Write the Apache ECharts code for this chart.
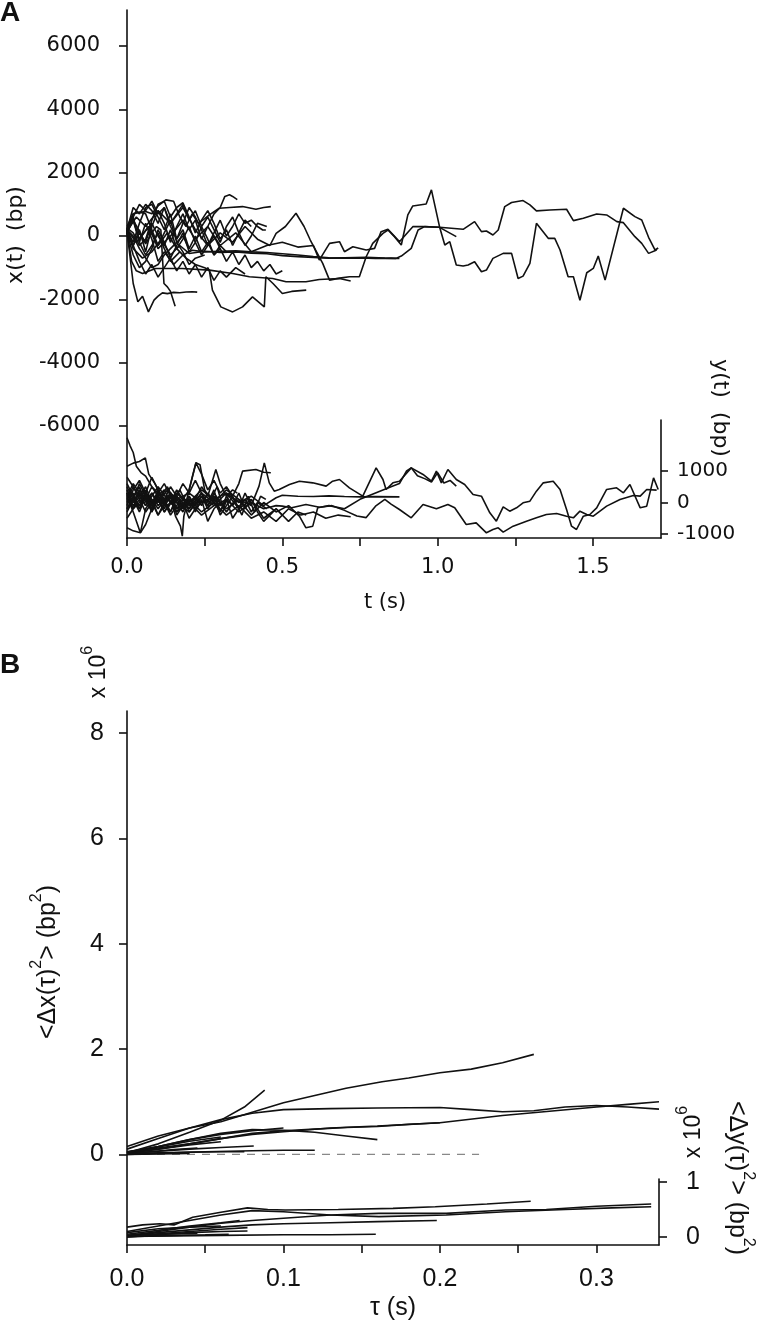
<!DOCTYPE html>
<html><head><meta charset="utf-8">
<script src="https://cdn.jsdelivr.net/npm/echarts@6/dist/echarts.min.js"></script>
<style>html,body{margin:0;padding:0;background:#fff}#c{width:760px;height:1327px}</style>
</head><body><div id="c"></div>
<script>
// ---------- Panel A: x(t) traces [t (s), x (bp)] ----------
const xTraceP = [[0,150],[0.03,600],[0.06,300],[0.1,800],[0.14,400],[0.18,900],[0.22,200],[0.26,-300],[0.3,100],[0.34,-200],[0.38,300],[0.42,-100],[0.46,-300],[0.48,84],[0.51,300],[0.544,718],[0.57,300],[0.59,-127],[0.63,-866],[0.652,-1393],[0.684,-1330],[0.716,-1288],[0.748,-1288],[0.77,-655],[0.791,-232],[0.824,84],[0.84,190],[0.861,-21],[0.883,-285],[0.904,665],[0.92,950],[0.963,1013],[0.98,1457],[1.006,295],[1.023,-285],[1.039,-179],[1.06,-918],[1.082,-950],[1.098,-918],[1.119,-813],[1.141,-1130],[1.157,-1077],[1.178,-707],[1.211,-549],[1.238,-549],[1.259,-1340],[1.275,-1267],[1.297,-866],[1.318,401],[1.356,-74],[1.377,-74],[1.394,-443],[1.42,-1288],[1.437,-1288],[1.458,-2027],[1.48,-1161],[1.501,-1024],[1.517,-634],[1.539,-1393],[1.598,876],[1.635,612],[1.657,507],[1.679,-42],[1.70,-443],[1.71,-380]];
const xTraceQ = [[0,200],[0.03,-200],[0.07,300],[0.1,-400],[0.14,0],[0.18,500],[0.22,-100],[0.26,300],[0.3,-300],[0.35,100],[0.4,-500],[0.45,-300],[0.5,-200],[0.55,-350],[0.6,-300],[0.619,-760],[0.652,-232],[0.684,-179],[0.70,-496],[0.727,-338],[0.77,-443],[0.797,-390],[0.818,137],[0.84,211],[0.877,-179],[0.92,295],[0.953,295],[1.006,274],[1.082,211],[1.119,454],[1.141,137],[1.157,158],[1.178,32],[1.195,190],[1.216,929],[1.238,1056],[1.275,1119],[1.297,982],[1.318,792],[1.361,823],[1.415,845],[1.437,485],[1.469,560],[1.512,697],[1.544,665],[1.577,454],[1.598,422],[1.635,-21],[1.657,-232],[1.679,-549],[1.705,-443]];
const xTraceR = [[0,200],[0.02,-400],[0.05,-700],[0.08,-500],[0.11,-100],[0.14,-600],[0.17,-300],[0.2,-550],[0.25,-480],[0.3,-520],[0.35,-500],[0.4,-540],[0.45,-560],[0.5,-620],[0.55,-650],[0.6,-680],[0.65,-700],[0.7,-690],[0.77,-676],[0.83,-700],[0.866,-707],[0.883,-634],[0.915,-390],[0.937,190],[0.958,295],[1.006,274],[1.06,-21]];
const xTraceV = [[0,150],[0.02,600],[0.04,-200],[0.06,400],[0.08,-100],[0.1,-800],[0.12,-500],[0.15,-900],[0.18,-600],[0.21,-450],[0.25,-500],[0.3,-480],[0.35,-470],[0.4,-500],[0.45,-520],[0.5,-560],[0.55,-600],[0.6,-650],[0.65,-690],[0.7,-700],[0.75,-690],[0.8,-710],[0.85,-700],[0.877,-710]];
const xTraceS = [[0,150],[0.015,-800],[0.03,-1100],[0.05,-1182],[0.092,-1024],[0.178,-1024],[0.265,-1077],[0.34,-1182],[0.394,-1288],[0.469,-1340],[0.512,-1446],[0.576,-1446],[0.619,-1372],[0.684,-1340],[0.72,-1420]];
const xTraceW = [[0,100],[0.02,500],[0.04,-100],[0.07,300],[0.1,-300],[0.13,100],[0.16,-400],[0.19,-700],[0.22,-900],[0.25,-1000],[0.265,-1077],[0.275,-1710],[0.302,-2238],[0.34,-2397],[0.372,-2238],[0.404,-1921],[0.442,-2238],[0.447,-1288],[0.47,-1500],[0.5,-1815],[0.53,-1750],[0.577,-1710]];
const xTraceE1 = [[0,150],[0.02,-1500],[0.035,-2080],[0.05,-1900],[0.069,-2397],[0.087,-2027],[0.1,-1900],[0.114,-1795],[0.13,-1820],[0.15,-1780],[0.17,-1790],[0.19,-1770],[0.21,-1760],[0.226,-1773]];
const xTraceE2 = [[0,250],[0.02,500],[0.04,150],[0.06,-250],[0.08,100],[0.095,300],[0.109,190],[0.119,-1500],[0.13,-1605],[0.14,-1750],[0.155,-2217]];
const xTraceH = [[0,200],[0.02,700],[0.04,750],[0.06,770],[0.08,700],[0.1,950],[0.125,1140],[0.15,1100],[0.17,600],[0.19,300],[0.21,700],[0.23,400],[0.25,550],[0.265,665],[0.297,876],[0.33,900],[0.372,929],[0.415,845],[0.44,900],[0.463,929]];
const xTraceT = [[0,100],[0.02,-300],[0.04,200],[0.06,-500],[0.08,300],[0.1,800],[0.12,400],[0.14,-200],[0.16,300],[0.18,700],[0.2,200],[0.22,500],[0.24,-100],[0.26,300],[0.28,700],[0.3,900],[0.315,1250],[0.33,1300],[0.34,1250],[0.355,1150]];
const xTraceA1 = [[0,200],[0.02,-200],[0.04,400],[0.06,900],[0.08,1000],[0.1,600],[0.12,200],[0.14,700],[0.16,-100],[0.18,400],[0.2,900],[0.22,600],[0.24,200],[0.26,-300],[0.28,100],[0.3,500],[0.32,0],[0.34,300],[0.36,700],[0.38,400],[0.4,500],[0.42,300],[0.437,190],[0.447,190]];
const xTraceA2 = [[0,300],[0.02,700],[0.04,750],[0.06,700],[0.08,200],[0.1,-300],[0.12,100],[0.14,500],[0.16,-200],[0.18,0],[0.2,-400]];
const xTraceA3 = [[0,100],[0.02,-600],[0.04,-1000],[0.06,-800],[0.08,-400],[0.1,200],[0.12,-200],[0.14,-700],[0.16,-300],[0.18,100],[0.2,-500],[0.22,-200],[0.24,300],[0.26,-100],[0.28,-600],[0.3,-400]];
const xTraceA4 = [[0,250],[0.02,100],[0.04,-300],[0.06,-100],[0.08,500],[0.1,1000],[0.12,1100],[0.14,600],[0.16,900],[0.18,1050],[0.2,600],[0.22,100],[0.24,500],[0.26,800],[0.28,400],[0.3,-100],[0.32,200],[0.34,-300],[0.36,100],[0.38,500],[0.4,300]];
const xTraceA5 = [[0,200],[0.02,0],[0.04,-400],[0.06,-700],[0.08,-1000],[0.1,-900],[0.12,-600],[0.14,-400],[0.16,-200],[0.18,-500],[0.2,-900],[0.22,-700],[0.25,-600]];
const xTraceA6 = [[0,150],[0.02,500],[0.04,-200],[0.06,-600],[0.08,-300],[0.1,100],[0.12,-400],[0.14,-800],[0.17,-500]];
const xTraceA7 = [[0,200],[0.02,900],[0.04,700],[0.06,1000],[0.08,800],[0.1,400],[0.12,900],[0.14,300],[0.16,-100],[0.18,200],[0.2,-400],[0.22,0],[0.24,-500],[0.26,-200],[0.28,-600],[0.3,-300],[0.32,-500]];
const xTraceA8 = [[0,100],[0.02,-300],[0.04,100],[0.06,-200],[0.08,400],[0.1,0],[0.12,-300],[0.14,200],[0.16,-400],[0.18,-100],[0.2,300],[0.22,-200],[0.24,-600],[0.26,-300],[0.28,0],[0.3,-400],[0.32,-800],[0.34,-500],[0.36,-900],[0.38,-600],[0.4,-1000],[0.42,-800],[0.44,-1100],[0.46,-900],[0.48,-1200],[0.5,-1100]];
const xTraceA9 = [[0,200],[0.02,600],[0.04,1000],[0.06,800],[0.08,1100],[0.1,700],[0.12,900],[0.14,400],[0.16,700],[0.18,1000],[0.2,500],[0.22,800],[0.24,300],[0.26,600],[0.28,200],[0.3,-200],[0.32,300],[0.34,600],[0.36,100],[0.38,-300],[0.4,0],[0.42,400],[0.45,300]];
const xTraceA10 = [[0,150],[0.02,-300],[0.04,-800],[0.06,-1200],[0.08,-900],[0.1,-1300],[0.12,-1000],[0.14,-700],[0.16,-1100],[0.18,-800],[0.2,-1200],[0.22,-900],[0.24,-1300],[0.26,-1000],[0.28,-1400],[0.3,-1100],[0.32,-1300],[0.35,-1000],[0.38,-1200]];

// ---------- Panel A: y(t) traces [t (s), y (bp)] ----------
const yTraceP = [[0,300],[0.02,-100],[0.04,200],[0.06,500],[0.08,0],[0.1,300],[0.13,-100],[0.16,200],[0.2,-200],[0.24,300],[0.28,0],[0.32,400],[0.36,100],[0.4,-100],[0.425,519],[0.442,1259],[0.458,624],[0.474,360],[0.49,413],[0.523,571],[0.555,677],[0.598,624],[0.641,519],[0.662,677],[0.684,730],[0.716,466],[0.759,201],[0.802,1101],[0.824,730],[0.834,413],[0.856,624],[0.877,677],[0.915,1100],[0.953,889],[0.98,677],[0.996,995],[1.012,624],[1.033,1048],[1.06,730],[1.087,571],[1.114,254],[1.141,201],[1.168,-328],[1.189,-593],[1.211,-138],[1.232,-275],[1.254,-169],[1.275,-11],[1.297,42],[1.318,360],[1.34,624],[1.372,677],[1.394,413],[1.415,-222],[1.431,-751],[1.447,-857],[1.469,-434],[1.49,-381],[1.512,-169],[1.544,413],[1.576,466],[1.598,307],[1.619,571],[1.652,-169],[1.673,-116],[1.695,783],[1.71,413]];
const yTraceQ = [[0,-200],[0.02,200],[0.04,-100],[0.06,300],[0.08,100],[0.1,-200],[0.13,200],[0.16,0],[0.2,-300],[0.24,200],[0.28,-100],[0.32,100],[0.36,-300],[0.4,0],[0.44,-200],[0.48,-100],[0.5,-116],[0.53,-169],[0.576,-64],[0.62,-150],[0.66,-100],[0.7,-250],[0.74,-430],[0.77,-480],[0.8,-116],[0.83,100],[0.85,-50],[0.877,-222],[0.915,-487],[0.953,-64],[0.996,-201],[1.033,-64],[1.055,-169],[1.092,-699],[1.124,-646],[1.157,-963],[1.178,-857],[1.195,-804],[1.211,-942],[1.243,-751],[1.286,-593],[1.318,-487],[1.35,-381],[1.383,-349],[1.415,-434],[1.437,-487],[1.458,-275],[1.48,-381],[1.501,-434],[1.544,-116],[1.587,95],[1.63,222],[1.652,201],[1.673,413],[1.705,392]];
const yTraceR = [[0,100],[0.02,500],[0.04,200],[0.06,-100],[0.08,300],[0.1,0],[0.13,400],[0.16,100],[0.2,300],[0.24,0],[0.28,200],[0.32,-200],[0.36,100],[0.4,-400],[0.44,0],[0.48,-300],[0.52,-100],[0.555,-434],[0.576,-804],[0.598,-751],[0.614,-169],[0.65,-100],[0.7,-200],[0.75,100],[0.8,300],[0.85,500],[0.877,600],[0.9,1000],[0.915,1100],[0.935,850],[0.96,750],[0.98,650],[1.0,950],[1.02,620],[1.04,700],[1.06,518]];
const yTraceV = [[0,-300],[0.02,100],[0.04,-200],[0.06,300],[0.08,0],[0.1,200],[0.13,-200],[0.16,300],[0.2,0],[0.24,400],[0.28,100],[0.32,300],[0.36,0],[0.4,200],[0.44,-100],[0.48,150],[0.5,230],[0.55,200],[0.6,190],[0.65,210],[0.7,190],[0.75,180],[0.8,185],[0.877,180]];
const yTraceS = [[0,400],[0.02,0],[0.04,300],[0.06,-100],[0.08,200],[0.1,500],[0.13,100],[0.16,-200],[0.2,100],[0.24,-300],[0.28,0],[0.32,-400],[0.36,-100],[0.4,-500],[0.44,-300],[0.48,-600],[0.52,-200],[0.56,-400],[0.6,-300],[0.64,-500],[0.68,-400],[0.72,-450]];
const yTraceW = [[0,600],[0.02,200],[0.04,500],[0.06,0],[0.08,300],[0.1,-100],[0.13,200],[0.16,-300],[0.2,0],[0.24,-400],[0.28,-100],[0.32,300],[0.36,-200],[0.4,100],[0.44,-500],[0.48,-200],[0.52,-600],[0.55,-300],[0.577,-400]];
const yTraceE1 = [[0,300],[0.02,-200],[0.04,400],[0.06,100],[0.08,-300],[0.1,200],[0.12,0],[0.14,300],[0.16,-200],[0.18,100],[0.2,-100],[0.226,200]];
const yTraceE2 = [[0,-800],[0.02,-900],[0.043,-963],[0.06,-700],[0.08,-200],[0.1,100],[0.12,-300],[0.14,0],[0.155,200]];
const yTraceH = [[0,200],[0.02,600],[0.04,300],[0.06,100],[0.08,500],[0.1,200],[0.12,400],[0.14,0],[0.16,300],[0.18,100],[0.2,400],[0.222,1260],[0.24,900],[0.26,400],[0.28,700],[0.3,300],[0.32,500],[0.34,200],[0.36,600],[0.372,995],[0.415,1048],[0.44,960],[0.463,942]];
const yTraceT = [[0,2054],[0.01,1800],[0.02,1587],[0.03,1153],[0.045,952],[0.06,836],[0.08,500],[0.1,300],[0.12,600],[0.14,200],[0.156,-434],[0.172,-751],[0.178,-1069],[0.183,-434],[0.194,-11],[0.22,100],[0.24,500],[0.26,200],[0.286,1048],[0.3,600],[0.32,200],[0.34,400],[0.355,300]];
const yTraceA1 = [[0,1153],[0.02,1250],[0.04,1300],[0.059,1418],[0.07,900],[0.09,600],[0.11,200],[0.13,500],[0.15,100],[0.17,400],[0.19,0],[0.21,800],[0.222,1260],[0.235,1200],[0.25,400],[0.27,100],[0.29,500],[0.31,-200],[0.33,300],[0.35,0],[0.37,-400],[0.39,200],[0.41,-300],[0.43,200],[0.447,100]];
const yTraceA2 = [[0,0],[0.02,300],[0.04,-200],[0.06,200],[0.08,-100],[0.1,400],[0.12,100],[0.14,-300],[0.16,200],[0.18,-100],[0.2,100]];
const yTraceA3 = [[0,500],[0.02,100],[0.04,600],[0.06,200],[0.08,-300],[0.1,100],[0.12,-200],[0.14,300],[0.16,-400],[0.18,-100],[0.2,200],[0.22,-300],[0.24,100],[0.26,-600],[0.28,-200],[0.3,0]];
const yTraceA4 = [[0,-100],[0.02,400],[0.04,700],[0.06,300],[0.08,800],[0.1,400],[0.12,100],[0.14,500],[0.16,200],[0.18,600],[0.2,300],[0.22,700],[0.24,300],[0.26,0],[0.28,400],[0.3,-300],[0.32,100],[0.34,-500],[0.36,-200],[0.38,300],[0.4,-100]];
const yTraceA5 = [[0,200],[0.02,-300],[0.043,-963],[0.06,-200],[0.08,100],[0.1,-400],[0.12,-100],[0.14,200],[0.16,-300],[0.18,0],[0.2,-500],[0.22,-200],[0.25,100]];
const yTraceA6 = [[0,800],[0.02,500],[0.04,100],[0.06,400],[0.08,-200],[0.1,200],[0.12,-100],[0.14,300],[0.17,0]];
const yTraceA7 = [[0,-500],[0.02,-200],[0.04,100],[0.06,-300],[0.08,0],[0.1,-400],[0.12,0],[0.14,-300],[0.16,100],[0.18,-200],[0.2,200],[0.22,-100],[0.24,200],[0.26,-200],[0.28,100],[0.3,-100],[0.32,100]];
const yTraceA8 = [[0,100],[0.02,-200],[0.04,0],[0.06,300],[0.08,-100],[0.1,200],[0.12,-300],[0.14,0],[0.16,400],[0.18,100],[0.2,-200],[0.22,200],[0.24,-100],[0.26,300],[0.28,0],[0.3,-300],[0.32,200],[0.34,-100],[0.36,300],[0.38,-200],[0.4,100],[0.42,-300],[0.44,-600],[0.46,-400],[0.48,-200],[0.5,-400]];
const yTraceA9 = [[0,-200],[0.02,100],[0.04,-300],[0.06,200],[0.08,-100],[0.1,300],[0.12,0],[0.14,-400],[0.16,-100],[0.18,200],[0.2,-300],[0.22,0],[0.24,300],[0.26,-100],[0.28,200],[0.3,-400],[0.32,-100],[0.34,200],[0.36,-200],[0.38,100],[0.4,-300],[0.42,0],[0.45,-200]];
const yTraceA10 = [[0,300],[0.02,0],[0.04,400],[0.06,100],[0.08,-200],[0.1,200],[0.12,-100],[0.14,300],[0.16,0],[0.18,-300],[0.2,100],[0.22,-200],[0.24,200],[0.26,-100],[0.28,300],[0.3,0],[0.32,-300],[0.35,100],[0.38,-100]];

// ---------- Panel B: MSD curves [tau (s), MSD (x10^6 bp^2)] ----------
const msdX1 = [[0,0.15],[0.02,0.35],[0.04,0.5],[0.06,0.62],[0.08,0.8],[0.1,0.98],[0.12,1.12],[0.14,1.255],[0.163,1.38],[0.18,1.45],[0.2,1.55],[0.22,1.62],[0.24,1.74],[0.26,1.9]];
const msdX2 = [[0,0.03],[0.02,0.2],[0.04,0.42],[0.06,0.65],[0.075,0.9],[0.088,1.22]];
const msdX3 = [[0,0.1],[0.02,0.3],[0.04,0.5],[0.06,0.66],[0.08,0.78],[0.1,0.85],[0.13,0.87],[0.16,0.88],[0.2,0.89],[0.22,0.85],[0.24,0.81],[0.26,0.83],[0.28,0.9],[0.3,0.93],[0.32,0.9],[0.34,0.86]];
const msdX4 = [[0,0.05],[0.02,0.12],[0.04,0.2],[0.06,0.3],[0.08,0.38],[0.1,0.43],[0.13,0.5],[0.16,0.54],[0.2,0.6],[0.24,0.74],[0.27,0.82],[0.3,0.9],[0.32,0.95],[0.34,1.0]];
const msdX5 = [[0,0.02],[0.02,0.1],[0.04,0.2],[0.06,0.3],[0.08,0.4],[0.1,0.45],[0.12,0.48],[0.14,0.51],[0.16,0.53],[0.18,0.57],[0.2,0.6]];
const msdX6 = [[0,0.03],[0.02,0.15],[0.04,0.28],[0.06,0.4],[0.08,0.47],[0.1,0.46],[0.12,0.42],[0.14,0.35],[0.16,0.28]];
const msdX7 = [[0,0.01],[0.02,0.03],[0.05,0.05],[0.08,0.07],[0.1,0.08],[0.12,0.08]];
const msdX8 = [[0,0.02],[0.02,0.06],[0.04,0.1],[0.06,0.13],[0.081,0.16]];
const msdX9 = [[0,0.0],[0.02,0.02],[0.04,0.04],[0.06,0.05],[0.075,0.05]];
const msdX10 = [[0,0.03],[0.02,0.1],[0.04,0.18],[0.06,0.24]];
const msdX11 = [[0,0.01],[0.015,0.05],[0.03,0.09],[0.045,0.12]];
const msdX12 = [[0,0.04],[0.02,0.14],[0.04,0.25],[0.06,0.33]];
const msdX13 = [[0,0.0],[0.02,0.01],[0.04,0.02]];
const msdX14 = [[0,0.05],[0.02,0.15],[0.04,0.28],[0.06,0.38],[0.08,0.45],[0.1,0.5]];
const msdXZeroRef = [[0,0],[0.225,0]];

const msdY1 = [[0,0.18],[0.01,0.22],[0.021,0.24],[0.03,0.22],[0.042,0.36],[0.06,0.45],[0.077,0.53],[0.09,0.5],[0.101,0.49],[0.135,0.5],[0.17,0.52],[0.197,0.55],[0.23,0.6],[0.258,0.65]];
const msdY2 = [[0,0.02],[0.02,0.1],[0.04,0.18],[0.06,0.25],[0.08,0.3],[0.1,0.34],[0.13,0.4],[0.161,0.43],[0.204,0.43],[0.242,0.49],[0.268,0.5],[0.3,0.56],[0.335,0.6]];
const msdY3 = [[0,0.1],[0.02,0.2],[0.04,0.3],[0.06,0.4],[0.08,0.48],[0.1,0.46],[0.13,0.4],[0.161,0.37],[0.204,0.4],[0.242,0.46],[0.28,0.5],[0.31,0.53],[0.335,0.55]];
const msdY4 = [[0,0.03],[0.02,0.08],[0.04,0.13],[0.06,0.18],[0.08,0.22],[0.1,0.24],[0.13,0.26],[0.16,0.28],[0.198,0.3]];
const msdY5 = [[0,0.01],[0.03,0.02],[0.06,0.03],[0.1,0.04],[0.13,0.04],[0.159,0.05]];
const msdY6 = [[0,0.02],[0.02,0.06],[0.04,0.1],[0.06,0.14],[0.077,0.17]];
const msdY7 = [[0,0.0],[0.02,0.04],[0.04,0.08],[0.06,0.1],[0.077,0.11]];
const msdY8 = [[0,0.05],[0.02,0.12],[0.04,0.2],[0.06,0.26],[0.072,0.3]];
const msdY9 = [[0,0.0],[0.015,0.02],[0.03,0.03],[0.05,0.04],[0.065,0.05]];
const msdY10 = [[0,0.08],[0.02,0.15],[0.04,0.18],[0.06,0.2]];
const msdY11 = [[0,0.01],[0.02,0.05],[0.045,0.07]];

// ---------- ticks ----------
const tTicks = [0,0.25,0.5,0.75,1,1.25,1.5];
const tLabels = [0,0.5,1,1.5];
const xBpTicks = [-6000,-4000,-2000,0,2000,4000,6000];
const yBpTicks = [-1000,0,1000];
const tauTicks = [0,0.05,0.1,0.15,0.2,0.25,0.3];
const tauLabels = [0,0.1,0.2,0.3];
const msdXTicks = [0,2,4,6,8];
const msdYTicks = [0,1];

const xTraces = [xTraceP,xTraceQ,xTraceR,xTraceV,xTraceS,xTraceW,xTraceE1,xTraceE2,xTraceH,xTraceT,xTraceA1,xTraceA2,xTraceA3,xTraceA4,xTraceA5,xTraceA6,xTraceA7,xTraceA8,xTraceA9,xTraceA10];
const yTraces = [yTraceP,yTraceQ,yTraceR,yTraceV,yTraceS,yTraceW,yTraceE1,yTraceE2,yTraceH,yTraceT,yTraceA1,yTraceA2,yTraceA3,yTraceA4,yTraceA5,yTraceA6,yTraceA7,yTraceA8,yTraceA9,yTraceA10];
const msdXCurves = [msdX1,msdX2,msdX3,msdX4,msdX5,msdX6,msdX7,msdX8,msdX9,msdX10,msdX11,msdX12,msdX13,msdX14];
const msdYCurves = [msdY1,msdY2,msdY3,msdY4,msdY5,msdY6,msdY7,msdY8,msdY9,msdY10,msdY11];

const BLACK = '#111';
const fA = 'DejaVu Sans', fB = 'Liberation Sans';
const axLine = {show:true, onZero:false, lineStyle:{color:BLACK, width:1.6}};
const tickSt = {color:BLACK, width:1.6};
const plain = v => String(v);

function lineSeries(data, xi, yi){
  return {type:'line', xAxisIndex:xi, yAxisIndex:yi, data:data, showSymbol:false, symbol:'none',
    lineStyle:{color:BLACK, width:1.6}, silent:true, clip:false, z:3};
}
const series = [];
xTraces.forEach(d => series.push(lineSeries(d,0,0)));
yTraces.forEach(d => series.push(lineSeries(d,1,1)));
msdXCurves.forEach(d => series.push(lineSeries(d,2,2)));
msdYCurves.forEach(d => series.push(lineSeries(d,3,3)));
series.push({type:'line', xAxisIndex:2, yAxisIndex:2, data:msdXZeroRef, showSymbol:false, symbol:'none',
  lineStyle:{color:'#888', width:1.3, type:[8,7]}, silent:true, z:2});

const option = {
  animation:false,
  backgroundColor:'#fff',
  grid:[
    {left:127, right:99, top:10, bottom:789},
    {left:127, right:99, top:420, bottom:789},
    {left:127, right:101, top:711, bottom:82},
    {left:127, right:101, top:1179, bottom:82}
  ],
  xAxis:[
    {type:'value', gridIndex:0, min:0, max:1.719, show:false},
    {type:'value', gridIndex:1, min:0, max:1.719, position:'bottom',
      axisLine:axLine, splitLine:{show:false},
      axisTick:{show:true, inside:false, length:8, customValues:tTicks, lineStyle:tickSt},
      axisLabel:{customValues:tLabels, formatter:v=>v.toFixed(1), fontFamily:fA, fontSize:21, color:BLACK, margin:19}},
    {type:'value', gridIndex:2, min:0, max:0.34, show:false},
    {type:'value', gridIndex:3, min:0, max:0.34, position:'bottom',
      axisLine:axLine, splitLine:{show:false},
      axisTick:{show:true, inside:false, length:8, customValues:tauTicks, lineStyle:tickSt},
      axisLabel:{customValues:tauLabels, formatter:v=>v.toFixed(1), fontFamily:fB, fontSize:25, color:BLACK, margin:22}}
  ],
  yAxis:[
    {type:'value', gridIndex:0, min:-9537, max:7137, position:'left',
      axisLine:axLine, splitLine:{show:false},
      axisTick:{show:true, inside:false, length:8, customValues:xBpTicks, lineStyle:tickSt},
      axisLabel:{customValues:xBpTicks, formatter:plain, fontFamily:fA, fontSize:21, color:BLACK, margin:27}},
    {type:'value', gridIndex:1, min:-1127, max:2619, position:'right',
      axisLine:axLine, splitLine:{show:false},
      axisTick:{show:true, inside:false, length:7, customValues:yBpTicks, lineStyle:tickSt},
      axisLabel:{customValues:yBpTicks, formatter:plain, fontFamily:fA, fontSize:20, color:BLACK, margin:16}},
    {type:'value', gridIndex:2, min:-1.721, max:8.422, position:'left',
      axisLine:axLine, splitLine:{show:false},
      axisTick:{show:true, inside:false, length:8, customValues:msdXTicks, lineStyle:tickSt},
      axisLabel:{customValues:msdXTicks, formatter:plain, fontFamily:fB, fontSize:25, color:BLACK, margin:23}},
    {type:'value', gridIndex:3, min:-0.1455, max:1.0545, position:'right',
      axisLine:axLine, splitLine:{show:false},
      axisTick:{show:true, inside:false, length:8, customValues:msdYTicks, lineStyle:tickSt},
      axisLabel:{customValues:msdYTicks, formatter:plain, fontFamily:fB, fontSize:25, color:BLACK, margin:27}}
  ],
  graphic:[
    {type:'text', x:0, y:13, style:{text:'A', fontFamily:fB, fontWeight:'bold', fontSize:28, fill:BLACK, align:'left', verticalAlign:'middle'}},
    {type:'text', x:0, y:665, style:{text:'B', fontFamily:fB, fontWeight:'bold', fontSize:28, fill:BLACK, align:'left', verticalAlign:'middle'}},
    {type:'text', x:16, y:235, rotation:Math.PI/2, style:{text:'x(t)  (bp)', fontFamily:fA, fontSize:22, fill:BLACK, align:'center', verticalAlign:'middle'}},
    {type:'text', x:385, y:603, style:{text:'t (s)', fontFamily:fA, fontSize:21, fill:BLACK, align:'center', verticalAlign:'middle'}},
    {type:'text', x:720, y:408, rotation:-Math.PI/2, style:{text:'y(t)  (bp)', fontFamily:fA, fontSize:22, fill:BLACK, align:'center', verticalAlign:'middle'}},
    {type:'text', x:95, y:672, rotation:Math.PI/2, style:{text:'{m|x 10}{s|6}', fill:BLACK, align:'center', verticalAlign:'middle',
      rich:{m:{fontFamily:fB, fontSize:23, lineHeight:30, verticalAlign:'bottom', fill:BLACK}, s:{fontFamily:fB, fontSize:16, lineHeight:30, verticalAlign:'top', fill:BLACK}}}},
    {type:'text', x:45, y:962, rotation:Math.PI/2, style:{text:'{m|<Δx(τ)}{s|2}{m|> (bp}{s|2}{m|)}', fill:BLACK, align:'center', verticalAlign:'middle',
      rich:{m:{fontFamily:fB, fontSize:25, lineHeight:32, verticalAlign:'bottom', fill:BLACK}, s:{fontFamily:fB, fontSize:16, lineHeight:32, verticalAlign:'top', fill:BLACK}}}},
    {type:'text', x:690, y:1132, rotation:Math.PI/2, style:{text:'{m|x 10}{s|6}', fill:BLACK, align:'center', verticalAlign:'middle',
      rich:{m:{fontFamily:fB, fontSize:23, lineHeight:30, verticalAlign:'bottom', fill:BLACK}, s:{fontFamily:fB, fontSize:16, lineHeight:30, verticalAlign:'top', fill:BLACK}}}},
    {type:'text', x:740, y:1178, rotation:-Math.PI/2, style:{text:'{m|<Δy(τ)}{s|2}{m|> (bp}{s|2}{m|)}', fill:BLACK, align:'center', verticalAlign:'middle',
      rich:{m:{fontFamily:fB, fontSize:25, lineHeight:32, verticalAlign:'bottom', fill:BLACK}, s:{fontFamily:fB, fontSize:16, lineHeight:32, verticalAlign:'top', fill:BLACK}}}},
    {type:'text', x:393, y:1308, style:{text:'τ (s)', fontFamily:fB, fontSize:25, fill:BLACK, align:'center', verticalAlign:'middle'}}
  ],
  series:series
};
const chart = echarts.init(document.getElementById('c'), null, {renderer:'canvas'});
chart.setOption(option);
</script></body></html>
